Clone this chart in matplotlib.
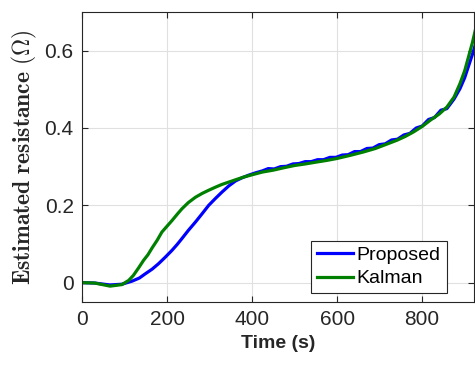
import matplotlib
matplotlib.use("Agg")
import matplotlib.pyplot as plt

# Proposed (blue) estimate
t_prop = [0, 30, 66, 94, 118, 135, 149, 165, 180, 196, 212, 224, 235, 250,
          267, 283, 298, 314, 329, 345, 361, 376, 392, 408, 424, 438, 452,
          467, 481, 496, 510, 525, 539, 554, 568, 583, 597, 612, 626, 641,
          655, 670, 684, 699, 713, 728, 742, 757, 771, 786, 800, 815, 829,
          844, 858, 875, 889, 900, 909, 918, 925]
r_prop = [0, -0.001, -0.006, -0.004, 0.004, 0.012, 0.023, 0.035, 0.049,
          0.066, 0.084, 0.099, 0.114, 0.135, 0.157, 0.179, 0.200, 0.218,
          0.234, 0.250, 0.263, 0.271, 0.278, 0.284, 0.289, 0.295, 0.294,
          0.300, 0.301, 0.307, 0.308, 0.313, 0.313, 0.318, 0.318, 0.324,
          0.324, 0.330, 0.331, 0.339, 0.339, 0.347, 0.348, 0.357, 0.359,
          0.369, 0.371, 0.382, 0.386, 0.400, 0.405, 0.422, 0.427, 0.446,
          0.450, 0.475, 0.502, 0.530, 0.560, 0.590, 0.615]

# Kalman (green) estimate
t_kal = [0, 30, 66, 94, 110, 121, 133, 145, 155, 165, 177, 188, 200, 212,
         224, 235, 250, 267, 283, 298, 314, 329, 345, 361, 380, 400, 424,
         450, 474, 500, 525, 552, 575, 599, 630, 662, 690, 709, 740, 760,
         780, 800, 819, 840, 858, 875, 889, 900, 909, 918, 925]
r_kal = [0, -0.001, -0.009, -0.005, 0.006, 0.019, 0.038, 0.058, 0.072,
         0.090, 0.110, 0.131, 0.146, 0.161, 0.177, 0.191, 0.207, 0.221,
         0.231, 0.239, 0.247, 0.254, 0.260, 0.266, 0.273, 0.279, 0.286,
         0.291, 0.297, 0.303, 0.307, 0.312, 0.316, 0.321, 0.329, 0.338,
         0.347, 0.355, 0.368, 0.378, 0.390, 0.404, 0.420, 0.436, 0.454,
         0.480, 0.515, 0.548, 0.584, 0.620, 0.653]

x_ticks = [0, 200, 400, 600, 800]
y_ticks = [0, 0.2, 0.4, 0.6]

plt.rcParams['font.family'] = 'Liberation Sans'
plt.rcParams['mathtext.fontset'] = 'cm'
plt.rcParams['xtick.direction'] = 'in'
plt.rcParams['ytick.direction'] = 'in'

fig = plt.figure(figsize=(4.75, 3.69), dpi=100)
ax = fig.add_axes([0.1726, 0.1816, 0.8254, 0.7859])

ax.plot(t_prop, r_prop, color="#0000ff", linewidth=2.3, label="Proposed")
ax.plot(t_kal, r_kal, color="#008000", linewidth=2.3, label="Kalman")

ax.set_xlim(0, 922)
ax.set_ylim(-0.05, 0.7)
ax.set_xticks(x_ticks)
ax.set_yticks(y_ticks)
ax.set_xticklabels([str(v) for v in x_ticks])
ax.set_yticklabels(["0", "0.2", "0.4", "0.6"])
ax.tick_params(labelsize=15, colors="#262626", top=True, right=True,
               length=4, width=0.8, pad=6)
ax.grid(color="#e0e0e0", linewidth=0.8)
ax.set_axisbelow(True)
for s in ax.spines.values():
    s.set_color("#262626")
    s.set_linewidth(0.8)

ax.set_xlabel("Time (s)", fontsize=14, fontweight="bold", color="#262626")
ax.set_ylabel(r"$\mathbf{Estimated\ resistance\ (\Omega)}$", fontsize=17,
              color="#262626", labelpad=4)

leg = ax.legend(loc="lower right", bbox_to_anchor=(0.93, 0.03), fontsize=14,
                fancybox=False, framealpha=1, edgecolor="#262626",
                handlelength=1.85, handletextpad=0.2, borderpad=0.3,
                labelspacing=0.3, borderaxespad=0)
leg.get_frame().set_linewidth(0.8)

fig.savefig("out.png", dpi=100)
